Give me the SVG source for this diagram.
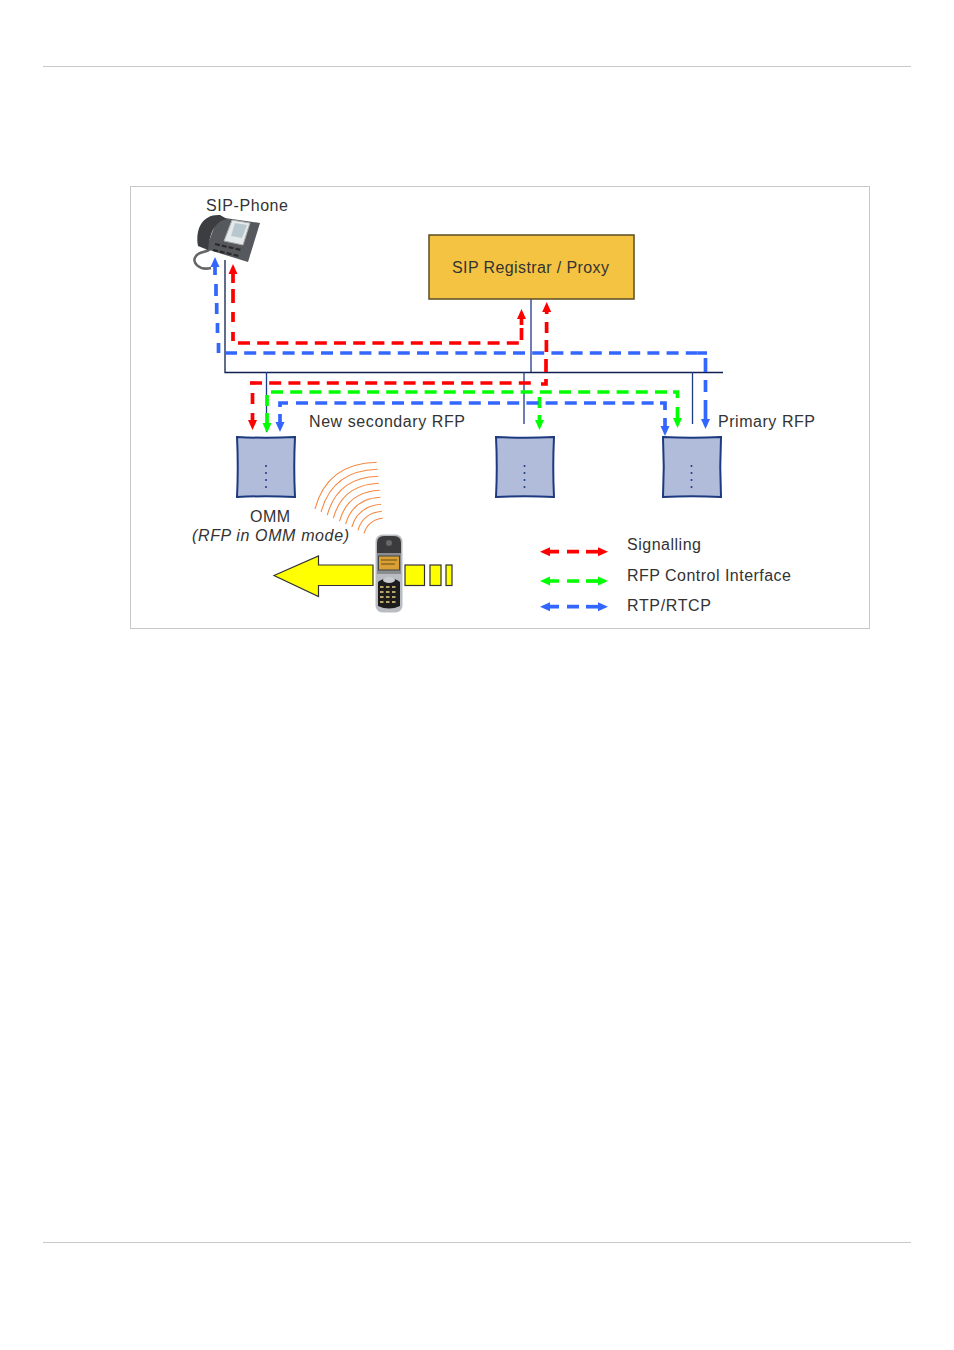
<svg xmlns="http://www.w3.org/2000/svg" width="954" height="1350" viewBox="0 0 954 1350">
<style>
text{font-family:"Liberation Sans",Arial,sans-serif;font-size:16px;fill:#333}
.rule{stroke:#c8c8c8;stroke-width:1;fill:none}
.wire{stroke:#1f3a86;stroke-width:1.3;fill:none}
.sig,.ctl,.rtp{fill:none;stroke-width:3.7}
.sig{stroke:#ff0000;marker-start:url(#hr)}
.ctl{stroke:#00ff00;marker-start:url(#hg)}
.rtp{stroke:#3366ff;marker-start:url(#hb)}
.run{stroke-dasharray:12 7.2;marker-start:none}
.bare{marker-start:none}
.rfp{fill:#b0bcd9;stroke:#1d3a80;stroke-width:2}
.dot{fill:#1d3a80}
.wave{fill:none;stroke:#f58a45;stroke-width:1.1}
.bar{fill:#ffff00;stroke:#333;stroke-width:1.2}
</style>
<defs>
<marker id="hr" markerUnits="userSpaceOnUse" markerWidth="12" markerHeight="12" refX="0" refY="6" orient="auto-start-reverse"><path d="M0 1.5L10 6L0 10.5Z" fill="#ff0000"/></marker>
<marker id="hg" markerUnits="userSpaceOnUse" markerWidth="12" markerHeight="12" refX="0" refY="6" orient="auto-start-reverse"><path d="M0 1.5L10 6L0 10.5Z" fill="#00ff00"/></marker>
<marker id="hb" markerUnits="userSpaceOnUse" markerWidth="12" markerHeight="12" refX="0" refY="6" orient="auto-start-reverse"><path d="M0 1.5L10 6L0 10.5Z" fill="#3366ff"/></marker>
<filter id="soft" x="-10%" y="-10%" width="120%" height="120%"><feGaussianBlur stdDeviation="0.5"/></filter>
<path id="box" d="M0 0Q29 1.5 58 0Q56.5 30 58 60Q29 58.5 0 60Q1.5 30 0 0Z"/>
<g id="dots"><circle cx="0" cy="0" r="1"/><circle cx="0" cy="7" r="1"/><circle cx="0" cy="14" r="1"/><circle cx="0" cy="21" r="1"/></g>
</defs>

<g id="page-rules">
<path class="rule" d="M43 66.5H911M43 1242.5H911"/>
<rect class="rule" x="130.5" y="186.5" width="739" height="442"/>
</g>

<g id="connectors">
<path class="wire" style="stroke:#10204f" d="M225 260V372.5H723"/>
<path class="wire" d="M531 299V372M266.5 372V432M524 372V424M692.5 372V424"/>

<g id="signalling-phone-registrar">
<path class="sig" d="M233 274V283M233 289V303M233 312V322M233 332V341"/>
<path class="sig run" d="M238 343H519"/>
<path class="sig" d="M521.5 319V325M521.5 328V340"/>
</g>
<g id="signalling-registrar-omm">
<path class="sig" d="M546.7 312V314M546.6 322V333M546.4 340V352M546 359V372M546 379V384H541"/>
<path class="sig run" d="M250 383H538"/>
<path class="sig" d="M252.5 420V413M252.5 404V393"/>
</g>
<g id="control-omm-rfps">
<path class="ctl" d="M267 423V413M267 406V395"/>
<path class="ctl run" d="M271 392H673"/>
<path class="ctl bare" d="M673 392H677.5V398"/>
<path class="ctl" d="M677.5 418V407"/>
<path class="ctl bare" d="M539.5 397V408"/>
<path class="ctl" d="M539.5 420V415"/>
</g>
<g id="rtp-phone-primary">
<path class="rtp" d="M215 267V275M216 284V296M216.7 303V314M217.5 323V333M218.5 343V353"/>
<path class="rtp run" d="M225 353H700"/>
<path class="rtp bare" d="M698 353H707M705.5 358V372M705.5 380V392"/>
<path class="rtp" d="M705.5 419V400"/>
</g>
<g id="rtp-omm-secondary">
<path class="rtp" d="M280 422V414"/>
<path class="rtp bare" d="M280 407V403H288"/>
<path class="rtp run" d="M296 403H660"/>
<path class="rtp bare" d="M660 403H665V410"/>
<path class="rtp" d="M665 426V418"/>
</g>
</g>

<g id="sip-registrar">
<rect x="429" y="235" width="205" height="64" fill="#f5c342" stroke="#5a4c24" stroke-width="1.5"/>
<text x="452" y="273" textLength="157">SIP Registrar / Proxy</text>
</g>

<g id="sip-phone">
<text x="206" y="211" textLength="82">SIP-Phone</text>
<g filter="url(#soft)">
<path d="M211 268C199 271 191 262 196 256C199 251 206 253 210 249" fill="none" stroke="#666" stroke-width="2.6"/>
<path d="M218 217L260 223L248 262L206 249Z" fill="#55585c"/>
<path d="M198 246C195 228 203 214 220 215L227 219C215 221 210 232 208 250Z" fill="#3a3c40"/>
<path d="M232 220L250 223L243 245L224 241Z" fill="#e4e9ea" stroke="#aaa" stroke-width="1"/>
<path d="M235 223L247 225L242 238L231 236Z" fill="#b6c8ce"/>
<path d="M215 244L241 250M213 250L239 256" stroke="#2a2a2c" stroke-width="2.2" stroke-dasharray="5 2"/>
</g>
</g>

<g id="omm">
<use href="#box" x="237" y="437" class="rfp"/>
<use href="#dots" x="266" y="466" class="dot"/>
<text x="250" y="522" textLength="40">OMM</text>
<text x="192" y="541" textLength="157" font-style="italic">(RFP in OMM mode)</text>
</g>

<g id="new-secondary-rfp">
<use href="#box" x="496" y="437" class="rfp"/>
<use href="#dots" x="524.5" y="466" class="dot"/>
<text x="309" y="427" textLength="156">New secondary RFP</text>
</g>

<g id="primary-rfp">
<use href="#box" x="663" y="437" class="rfp"/>
<use href="#dots" x="691.5" y="466" class="dot"/>
<text x="718" y="427" textLength="97">Primary RFP</text>
</g>

<g id="radio-waves">
<path class="wave" d="M315 509Q327 463.5 376.7 462.3"/>
<path class="wave" d="M321.1 512Q332.2 470.6 377.4 469.3"/>
<path class="wave" d="M327.3 515.1Q337.3 477.6 378.2 476.3"/>
<path class="wave" d="M333.4 518.1Q342.5 484.7 378.9 483.3"/>
<path class="wave" d="M339.5 521.2Q347.6 491.8 379.7 490.3"/>
<path class="wave" d="M345.6 524.2Q352.8 498.8 380.4 497.3"/>
<path class="wave" d="M351.8 527.2Q358 505.9 381.2 504.3"/>
<path class="wave" d="M357.9 530.3Q363.1 512.9 381.9 511.3"/>
<path class="wave" d="M364 533.3Q368.3 520 382.7 518.3"/>
</g>

<g id="movement-arrow">
<path class="bar" d="M274 575.5L318.5 556V565H373V585.5H318.5V596.5Z"/>
<rect class="bar" x="405" y="565" width="19.5" height="20.5"/>
<rect class="bar" x="430" y="565" width="11" height="20.5"/>
<rect class="bar" x="446" y="565" width="6" height="20.5"/>
</g>

<g id="handset" filter="url(#soft)">
<rect x="375.5" y="534.5" width="27" height="78" rx="7" fill="#b9bcc0"/>
<path d="M377 543Q377 536 384 536H394Q401 536 401 543V553H377Z" fill="#3a3a3c"/>
<circle cx="389" cy="543" r="3" fill="#66686a"/>
<path d="M377 553H401V574H377Z" fill="#8a8d90"/>
<rect x="378.5" y="556" width="21" height="14" fill="#d8a034" stroke="#444"/>
<path d="M381 560H397M381 564H395" stroke="#6a4c10" stroke-width="1.2"/>
<path d="M378 582Q389 574 400 582V606Q389 611 378 606Z" fill="#1c1c1e"/>
<ellipse cx="389" cy="580" rx="6" ry="3" fill="#c8ccd0"/>
<path d="M380 587H398M380 592H398M380 597H398M380 602H398" stroke="#b8a46a" stroke-width="1.8" stroke-dasharray="3.5 2.5"/>
</g>

<g id="legend">
<path class="sig" d="M550 551.7H559M567 551.7H579"/><path class="sig" d="M598 551.7H586"/>
<text x="627" y="550" textLength="74">Signalling</text>
<path class="ctl" d="M550 581H559M567 581H579"/><path class="ctl" d="M598 581H586"/>
<text x="627" y="581" textLength="164">RFP Control Interface</text>
<path class="rtp" d="M550 606.7H559M567 606.7H579"/><path class="rtp" d="M598 606.7H586"/>
<text x="627" y="611" textLength="84">RTP/RTCP</text>
</g>
</svg>
